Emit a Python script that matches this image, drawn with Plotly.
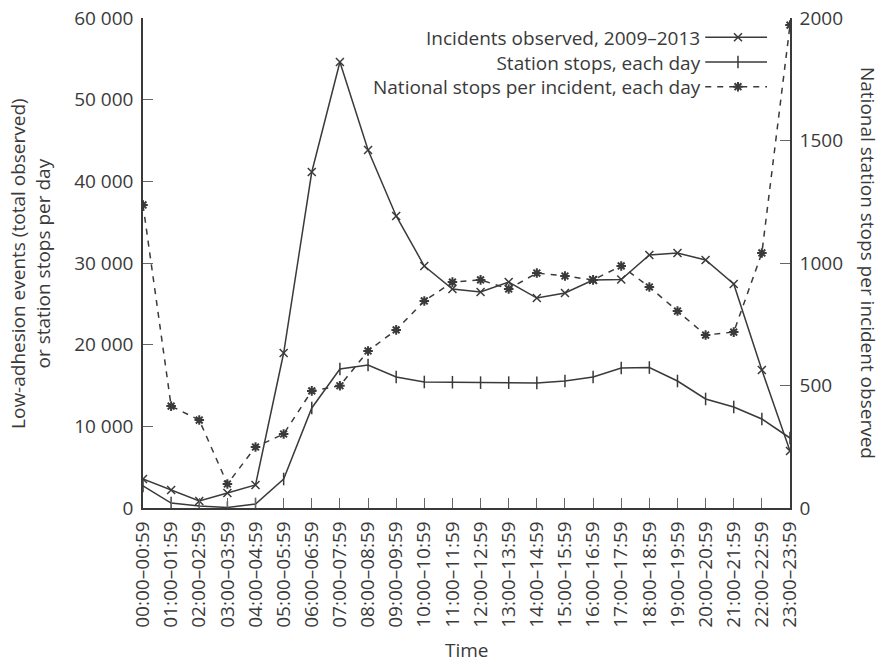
import plotly.graph_objects as go

# Hourly bands
hours = [f"{h:02d}:00–{h:02d}:59" for h in range(24)]

# Low-adhesion incidents observed, 2009–2013 (left axis)
incidents = [3550, 2200, 860, 1840, 2820, 18980, 41140, 54610, 43840, 35760,
             29630, 26820, 26450, 27670, 25710, 26330, 27920, 27980, 30980,
             31220, 30370, 27430, 16900, 6980]

# Station stops each day (left axis)
station_stops = [2700, 610, 250, 60, 490, 3550, 12250, 17020, 17510, 16040,
                 15430, 15400, 15350, 15350, 15320, 15550, 16040, 17140, 17200,
                 15550, 13350, 12370, 10900, 8570]

# National station stops per incident observed, each day (right axis)
stops_per_incident = [1237, 416, 359, 98, 249, 302, 478, 499, 641, 727,
                      845, 922, 931, 894, 959, 947, 931, 988, 902, 804,
                      706, 718, 1041, 1971]

left_ticks = [0, 10000, 20000, 30000, 40000, 50000, 60000]
left_ticktext = ["0", "10 000", "20 000", "30 000",
                 "40 000", "50 000", "60 000"]
right_ticks = [0, 500, 1000, 1500, 2000]

legend_labels = ["Incidents observed, 2009–2013",
                 "Station stops, each day",
                 "National stops per incident, each day"]

INK = "#3a3a3a"
FONT = "Open Sans"
FS = 19

fig = go.Figure()

fig.add_trace(go.Scatter(
    x=hours, y=incidents, mode="lines+markers", name=legend_labels[0],
    line=dict(color=INK, width=1.5),
    marker=dict(symbol="x-thin", size=8, line=dict(color=INK, width=1.5)),
    xaxis="x", yaxis="y"))

fig.add_trace(go.Scatter(
    x=hours, y=station_stops, mode="lines+markers", name=legend_labels[1],
    line=dict(color=INK, width=1.5),
    marker=dict(symbol="line-ns", size=9, line=dict(color=INK, width=1.5)),
    xaxis="x", yaxis="y"))

fig.add_trace(go.Scatter(
    x=hours, y=stops_per_incident, mode="lines+markers", name=legend_labels[2],
    line=dict(color=INK, width=1.5, dash="6px,6px"),
    marker=dict(symbol="asterisk", size=8, line=dict(color=INK, width=2)),
    xaxis="x", yaxis="y2"))

# Legend keys drawn on an overlay frame (0..1 in both directions)
key_y = [0.9606, 0.9102, 0.8598]
key_x0, key_xm, key_x1 = 0.869, 0.9196, 0.9645
key_styles = [
    dict(line=dict(color=INK, width=1.5),
         marker=dict(symbol="x-thin", size=8, line=dict(color=INK, width=1.5))),
    dict(line=dict(color=INK, width=1.5),
         marker=dict(symbol="line-ns", size=9, line=dict(color=INK, width=1.5))),
    dict(line=dict(color=INK, width=1.5, dash="6px,6px"),
         marker=dict(symbol="asterisk", size=8, line=dict(color=INK, width=2))),
]
for ky, st in zip(key_y, key_styles):
    fig.add_trace(go.Scatter(
        x=[key_x0, key_xm, key_x1], y=[ky, ky, ky], mode="lines",
        line=st["line"], xaxis="x2", yaxis="y3", showlegend=False,
        hoverinfo="skip"))
    fig.add_trace(go.Scatter(
        x=[key_xm], y=[ky], mode="markers", marker=st["marker"],
        xaxis="x2", yaxis="y3", showlegend=False, hoverinfo="skip"))

# Legend labels, right-aligned to the left of their keys
fig.add_annotation(
    x=0.864, y=0.9102, xref="paper", yref="paper",
    text="<br>".join(legend_labels), align="right", showarrow=False,
    xanchor="right", yanchor="middle", borderpad=0,
    font=dict(family=FONT, size=FS, color=INK))

axis_common = dict(
    showline=True, linecolor=INK, linewidth=1.5,
    ticks="inside", ticklen=10, tickcolor="#666666", tickwidth=1,
    showgrid=False, zeroline=False, automargin=False,
    tickfont=dict(family=FONT, size=FS, color=INK),
)

fig.update_layout(
    width=882, height=667,
    margin=dict(l=143, r=92, t=18, b=159, autoexpand=False),
    paper_bgcolor="white", plot_bgcolor="white",
    showlegend=False,
    font=dict(family=FONT, size=FS, color=INK),
    xaxis=dict(
        **axis_common, type="category", range=[0, 23],
        tickangle=-90, ticklabelstandoff=4,
    ),
    yaxis=dict(
        **axis_common, range=[0, 60000], tickvals=left_ticks,
        ticktext=left_ticktext, ticklabelstandoff=4,
    ),
    yaxis2=dict(
        **axis_common, range=[0, 2000], tickvals=right_ticks,
        overlaying="y", side="right", ticklabelstandoff=4,
    ),
    xaxis2=dict(overlaying="x", range=[0, 1], visible=False),
    yaxis3=dict(overlaying="y", range=[0, 1], visible=False),
)

# Axis titles
fig.add_annotation(
    x=0.5, y=-0.2898, xref="paper", yref="paper", text="Time",
    showarrow=False, xanchor="center", yanchor="middle",
    font=dict(family=FONT, size=FS, color=INK))
fig.add_annotation(
    x=-0.1747, y=0.5, xref="paper", yref="paper",
    text="Low-adhesion events (total observed)<br>or station stops per day",
    showarrow=False, textangle=-90, xanchor="center", yanchor="middle",
    font=dict(family=FONT, size=FS, color=INK))
fig.add_annotation(
    x=1.1206, y=0.5, xref="paper", yref="paper",
    text="National station stops per incident observed",
    showarrow=False, textangle=90, xanchor="center", yanchor="middle",
    font=dict(family=FONT, size=FS, color=INK))

fig.write_html("out.html")
